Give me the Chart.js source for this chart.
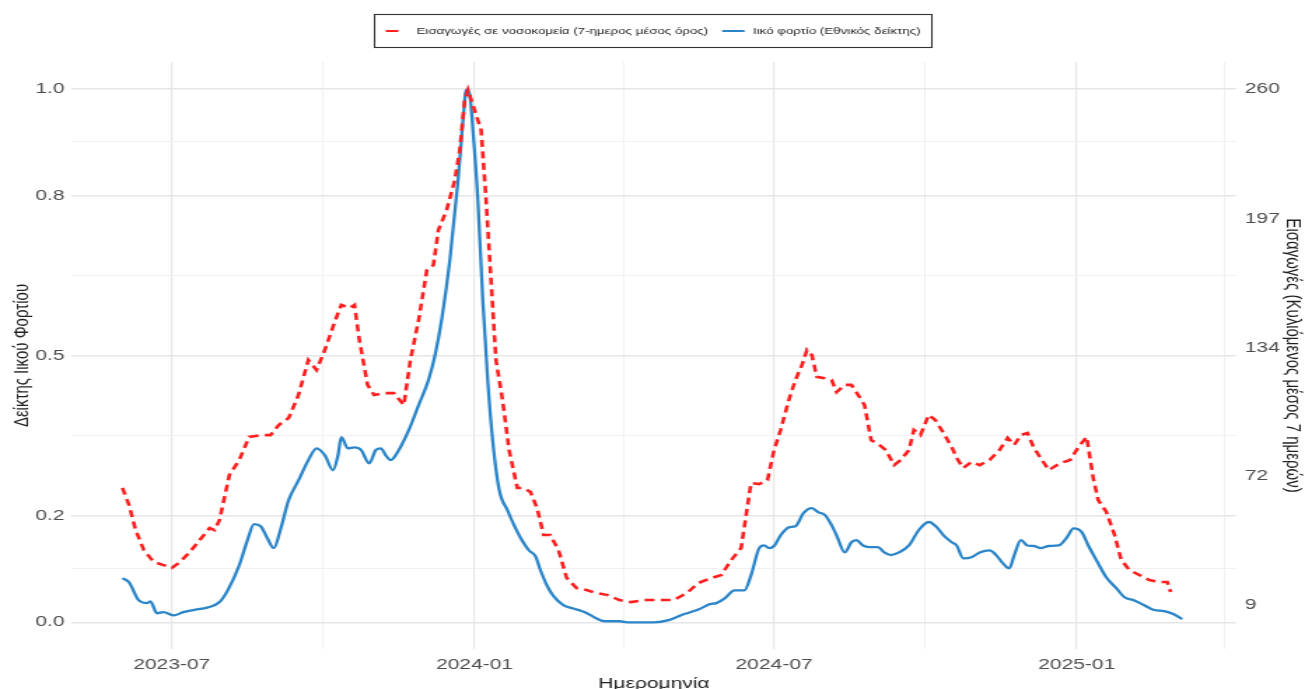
<!DOCTYPE html>
<html><head><meta charset="utf-8">
<script src="https://cdn.jsdelivr.net/npm/chart.js@4.4.1/dist/chart.umd.min.js"></script>
<style>
html,body{margin:0;padding:0;background:#fff;overflow:hidden;width:1305px;height:689px;}
#wrap{position:absolute;left:0;top:0;width:932px;height:689px;transform:scaleX(1.40021);transform-origin:0 0;}
canvas{display:block;}
</style></head><body>
<div id="wrap"><canvas id="c" width="932" height="689" style="width:932px;height:689px"></canvas></div>
<script>
// ---------------- DATA ----------------
const seriesLabels = ['Εισαγωγές σε νοσοκομεία (7-ημερος μέσος όρος)', 'Ιικό φορτίο (Εθνικός δείκτης)'];

const admissionDates = ['2023-06-01','2023-06-05','2023-06-09','2023-06-14','2023-06-20','2023-06-26','2023-07-01','2023-07-06','2023-07-12','2023-07-18','2023-07-24','2023-07-27','2023-07-30','2023-08-05','2023-08-11','2023-08-17','2023-08-24','2023-08-30','2023-09-04','2023-09-10','2023-09-16','2023-09-22','2023-09-27','2023-10-02','2023-10-08','2023-10-12','2023-10-17','2023-10-20','2023-10-23','2023-10-28','2023-11-01','2023-11-07','2023-11-13','2023-11-19','2023-11-23','2023-11-28','2023-12-03','2023-12-07','2023-12-10','2023-12-15','2023-12-20','2023-12-23','2023-12-26','2023-12-28','2023-12-30','2024-01-03','2024-01-05','2024-01-08','2024-01-11','2024-01-14','2024-01-18','2024-01-22','2024-01-27','2024-01-31','2024-02-04','2024-02-08','2024-02-12','2024-02-16','2024-02-21','2024-02-26','2024-03-03','2024-03-09','2024-03-15','2024-03-22','2024-03-29','2024-04-05','2024-04-13','2024-04-22','2024-05-01','2024-05-09','2024-05-16','2024-05-24','2024-05-30','2024-06-05','2024-06-11','2024-06-17','2024-06-22','2024-06-27','2024-07-01','2024-07-05','2024-07-10','2024-07-14','2024-07-18','2024-07-21','2024-07-24','2024-07-27','2024-07-31','2024-08-05','2024-08-08','2024-08-13','2024-08-17','2024-08-20','2024-08-25','2024-08-29','2024-09-03','2024-09-07','2024-09-12','2024-09-16','2024-09-21','2024-09-24','2024-09-28','2024-10-03','2024-10-07','2024-10-12','2024-10-17','2024-10-20','2024-10-24','2024-10-29','2024-11-03','2024-11-09','2024-11-15','2024-11-20','2024-11-24','2024-11-28','2024-12-02','2024-12-06','2024-12-10','2024-12-15','2024-12-20','2024-12-24','2024-12-28','2025-01-02','2025-01-07','2025-01-11','2025-01-14','2025-01-19','2025-01-24','2025-01-28','2025-02-02','2025-02-08','2025-02-14','2025-02-20','2025-02-25','2025-02-27'];
const admissionValues = [66.0,57.7,45.6,35.8,30.0,28.5,27.1,30.0,34.9,40.7,46.5,45.5,50.4,72.3,79.6,90.8,91.7,91.7,96.6,100.0,111.2,128.2,123.3,133.1,146.7,155.0,153.5,155.0,137.9,116.1,111.2,112.1,112.1,106.3,128.2,147.6,171.9,174.4,191.4,201.1,215.7,230.3,254.6,259.5,254.6,244.9,240.0,206.0,167.1,128.2,108.8,84.4,66.0,66.0,64.0,56.2,43.1,43.1,35.8,22.2,17.3,16.4,14.9,13.9,11.5,10.5,11.5,11.5,11.5,14.9,19.8,22.2,23.7,31.0,36.8,68.4,67.9,69.8,84.4,94.2,108.8,118.5,125.8,133.1,130.6,120.0,119.5,118.5,112.6,116.1,116.1,112.6,106.3,89.3,86.9,84.4,77.1,79.6,84.4,94.2,91.7,101.5,99.0,92.7,85.9,80.6,75.7,78.6,77.1,79.6,84.4,90.3,86.9,91.7,92.7,85.4,80.6,74.7,77.1,78.6,79.6,85.9,90.8,70.8,60.1,54.3,43.1,31.0,26.1,23.7,21.2,20.3,20.3,15.4];

const viralDates = ['2023-06-01','2023-06-05','2023-06-11','2023-06-16','2023-06-18','2023-06-22','2023-06-26','2023-07-02','2023-07-08','2023-07-14','2023-07-23','2023-07-30','2023-08-04','2023-08-11','2023-08-16','2023-08-20','2023-08-24','2023-08-28','2023-09-01','2023-09-05','2023-09-10','2023-09-16','2023-09-22','2023-09-27','2023-10-02','2023-10-07','2023-10-10','2023-10-12','2023-10-16','2023-10-20','2023-10-24','2023-10-29','2023-11-02','2023-11-05','2023-11-08','2023-11-11','2023-11-16','2023-11-22','2023-11-28','2023-12-04','2023-12-08','2023-12-12','2023-12-17','2023-12-22','2023-12-25','2023-12-27','2023-12-29','2023-12-31','2024-01-03','2024-01-06','2024-01-09','2024-01-12','2024-01-16','2024-01-21','2024-01-25','2024-01-29','2024-02-03','2024-02-07','2024-02-10','2024-02-14','2024-02-18','2024-02-24','2024-03-01','2024-03-08','2024-03-14','2024-03-20','2024-03-29','2024-04-04','2024-04-10','2024-04-19','2024-04-28','2024-05-07','2024-05-16','2024-05-23','2024-05-27','2024-06-01','2024-06-07','2024-06-13','2024-06-17','2024-06-22','2024-06-25','2024-06-28','2024-07-01','2024-07-05','2024-07-10','2024-07-14','2024-07-19','2024-07-24','2024-07-28','2024-08-01','2024-08-05','2024-08-08','2024-08-13','2024-08-17','2024-08-20','2024-08-24','2024-08-28','2024-09-02','2024-09-06','2024-09-10','2024-09-15','2024-09-21','2024-09-27','2024-10-03','2024-10-08','2024-10-12','2024-10-17','2024-10-20','2024-10-24','2024-10-29','2024-11-03','2024-11-09','2024-11-13','2024-11-17','2024-11-21','2024-11-24','2024-11-28','2024-12-02','2024-12-06','2024-12-10','2024-12-15','2024-12-21','2024-12-26','2024-12-30','2025-01-04','2025-01-08','2025-01-13','2025-01-19','2025-01-25','2025-01-30','2025-02-05','2025-02-11','2025-02-17','2025-02-23','2025-03-01','2025-03-06'];
const viralValues = [0.083,0.075,0.041,0.036,0.039,0.017,0.019,0.013,0.019,0.023,0.028,0.038,0.060,0.107,0.154,0.184,0.180,0.158,0.139,0.173,0.229,0.266,0.304,0.326,0.313,0.285,0.313,0.347,0.326,0.328,0.323,0.298,0.323,0.326,0.313,0.304,0.323,0.360,0.407,0.454,0.501,0.567,0.679,0.829,0.942,0.998,0.989,0.923,0.792,0.604,0.454,0.341,0.248,0.210,0.182,0.158,0.135,0.124,0.098,0.069,0.049,0.032,0.026,0.019,0.009,0.002,0.002,0.000,0.000,0.000,0.004,0.015,0.024,0.034,0.036,0.045,0.060,0.060,0.088,0.139,0.144,0.139,0.143,0.163,0.178,0.180,0.205,0.214,0.206,0.201,0.182,0.163,0.131,0.150,0.154,0.144,0.141,0.141,0.131,0.126,0.131,0.144,0.173,0.188,0.178,0.163,0.150,0.144,0.120,0.122,0.131,0.135,0.126,0.111,0.101,0.126,0.154,0.144,0.143,0.139,0.143,0.144,0.159,0.176,0.169,0.144,0.116,0.084,0.064,0.047,0.041,0.032,0.023,0.021,0.015,0.006];

const xMajorTicks = ['2023-07-01','2024-01-01','2024-07-01','2025-01-01'];
const xMinorTicks = ['2023-10-01','2024-04-01','2024-10-01','2025-04-01'];
const leftMajorTicks = [0, 0.2, 0.5, 0.8, 1.0];
const leftMinorTicks = [0.1, 0.35, 0.65, 0.9];
const rightTicks = [9, 72, 134, 197, 260];

const xTitle = 'Ημερομηνία';
const leftTitle = 'Δείκτης Ιικού Φορτίου';
const rightTitle = 'Εισαγωγές (Κυλιόμενος μέσος 7 ημερών)';

// ---------------- HELPERS ----------------
const DAY0 = Date.UTC(2023, 6, 1);
function dayOf(s){ const p = s.split('-').map(Number); return (Date.UTC(p[0], p[1]-1, p[2]) - DAY0) / 86400000; }
const majorDayLabel = {};
xMajorTicks.forEach(d => { majorDayLabel[dayOf(d)] = d.slice(0,7); });

const FONT = "'Liberation Sans', Arial, sans-serif";
const GRID_MAJOR = '#e6e6e6';
const GRID_MINOR = '#f1f1f1';

const legendBoxPlugin = {
  id: 'legendBox',
  afterDraw(chart){
    const ctx = chart.ctx;
    const items = Chart.defaults.plugins.legend.labels.generateLabels(chart);
    ctx.save();
    ctx.font = '9.5px ' + FONT;
    const pad = 8, key = 16, keyGap = 6, itemGap = 10;
    const widths = items.map(it => ctx.measureText(it.text).width);
    let total = pad*2 + widths.reduce((a,w)=>a+key+keyGap+w,0) + itemGap*(items.length-1);
    const left = Math.round(chart.width/2 - total/2) + 0.5;
    const top = 14.5, h = 33, cy = 31;
    ctx.strokeStyle = '#333';
    ctx.lineWidth = 1.1;
    ctx.strokeRect(left, top, total, h);
    let x = left + pad;
    items.forEach((it, i) => {
      ctx.beginPath();
      ctx.setLineDash(it.lineDash && it.lineDash.length ? [9, 8] : []);
      ctx.strokeStyle = it.strokeStyle;
      ctx.lineWidth = 2;
      ctx.moveTo(x, cy); ctx.lineTo(x + key, cy);
      ctx.stroke();
      ctx.setLineDash([]);
      x += key + keyGap;
      ctx.fillStyle = '#222';
      ctx.textBaseline = 'middle';
      ctx.textAlign = 'left';
      ctx.fillText(it.text, x, cy);
      x += widths[i] + itemGap;
    });
    ctx.restore();
  }
};

new Chart(document.getElementById('c'), {
  type: 'line',
  data: {
    datasets: [
      {
        label: seriesLabels[0],
        data: admissionDates.map((d,i) => ({x: dayOf(d), y: admissionValues[i]})),
        yAxisID: 'y2',
        borderColor: '#ff1f1f',
        borderWidth: 2.6,
        borderDash: [7,4.5],
        borderCapStyle: 'butt',
        tension: 0,
        pointRadius: 0,
        fill: false
      },
      {
        label: seriesLabels[1],
        data: viralDates.map((d,i) => ({x: dayOf(d), y: viralValues[i]})),
        yAxisID: 'y',
        borderColor: '#2b85c8',
        borderWidth: 2.3,
        cubicInterpolationMode: 'monotone',
        pointRadius: 0,
        fill: false
      }
    ]
  },
  options: {
    responsive: false,
    devicePixelRatio: 1,
    animation: false,
    layout: { padding: { top: 62, left: 0, right: 0, bottom: 0 } },
    plugins: { legend: { display: false }, tooltip: { enabled: false } },
    scales: {
      x: {
        type: 'linear',
        position: 'bottom',
        min: -61,
        max: 647,
        afterBuildTicks: s => { s.ticks = xMajorTicks.concat(xMinorTicks).map(d => ({value: dayOf(d)})).sort((a,b)=>a.value-b.value); },
        afterFit: s => { s.height = 40; },
        ticks: {
          autoSkip: false, maxRotation: 0, padding: 7,
          font: { family: FONT, size: 15 }, color: '#4d4d4d',
          callback: v => (majorDayLabel[v] !== undefined ? majorDayLabel[v] : '')
        },
        grid: {
          drawTicks: false,
          color: c => (c.tick && majorDayLabel[c.tick.value] !== undefined ? GRID_MAJOR : GRID_MINOR),
          lineWidth: c => (c.tick && majorDayLabel[c.tick.value] !== undefined ? 1.2 : 1)
        },
        border: { display: false },
        title: { display: true, text: xTitle, font: { family: FONT, size: 15 }, color: '#222', padding: { top: 0, bottom: -4 } }
      },
      y: {
        type: 'linear',
        position: 'left',
        min: -0.05,
        max: 1.05,
        afterBuildTicks: s => { s.ticks = leftMajorTicks.concat(leftMinorTicks).sort((a,b)=>a-b).map(v => ({value: v})); },
        afterFit: s => { s.width = 51; },
        ticks: {
          padding: 5, font: { family: FONT, size: 15 }, color: '#4d4d4d',
          callback: v => (leftMajorTicks.includes(v) ? v.toFixed(1) : '')
        },
        grid: {
          drawTicks: false,
          color: c => (c.tick && leftMajorTicks.includes(c.tick.value) ? GRID_MAJOR : GRID_MINOR),
          lineWidth: c => (c.tick && leftMajorTicks.includes(c.tick.value) ? 1.4 : 1.1)
        },
        border: { display: false },
        title: { display: true, text: leftTitle, font: { family: FONT, size: 15 }, color: '#222', padding: { top: 7, bottom: 0 } }
      },
      y2: {
        type: 'linear',
        position: 'right',
        min: -12.3,
        max: 273.1,
        afterBuildTicks: s => { s.ticks = rightTicks.map(v => ({value: v})); },
        afterFit: s => { s.width = 49; },
        ticks: {
          padding: 6, font: { family: FONT, size: 15 }, color: '#4d4d4d',
          callback: v => String(v)
        },
        grid: { display: false, drawTicks: false },
        border: { display: false },
        title: { display: true, text: rightTitle, font: { family: FONT, size: 15 }, color: '#222', padding: { top: 0, bottom: 0 } }
      }
    }
  },
  plugins: [legendBoxPlugin]
});
</script>
</body></html>
